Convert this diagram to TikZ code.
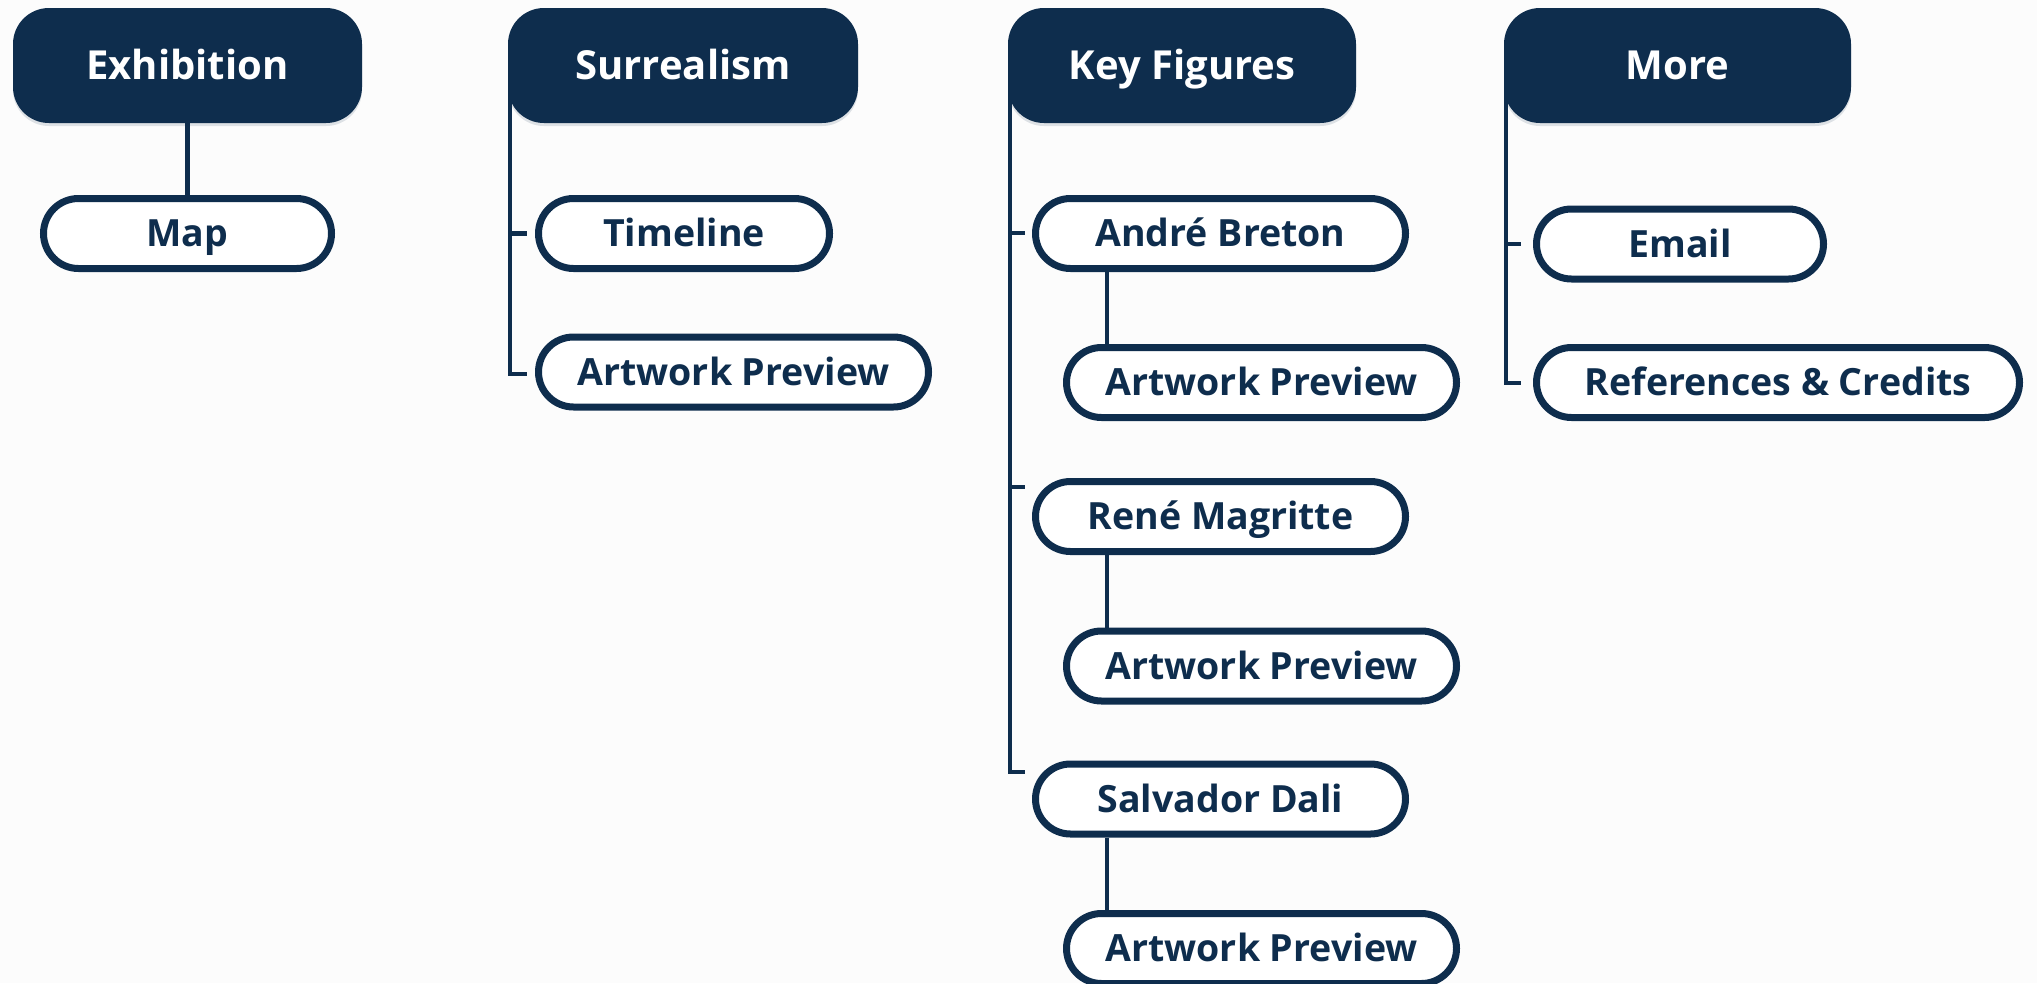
\documentclass[tikz,border=0pt]{standalone}
\usepackage{fontspec}
\setmainfont{Open Sans}
\usetikzlibrary{shadows}
\pgfdeclarelayer{background}
\pgfsetlayers{background,main}
\definecolor{navy}{RGB}{14,45,77}
\definecolor{bg}{RGB}{252,252,252}
\tikzset{
  hdr/.style={fill=navy, rounded corners=36pt, minimum height=115pt, text=white,
    font=\fontsize{40}{44}\selectfont\bfseries, inner sep=0pt,
    text height=28.6pt, text depth=0pt,
    drop shadow={shadow xshift=0pt, shadow yshift=-3pt, opacity=0.13, fill=navy}},
  pill/.style={draw=navy, line width=7pt, fill=white, rounded corners=35pt,
    minimum height=70pt, text=navy, font=\fontsize{37.5}{40}\selectfont\bfseries, inner sep=0pt,
    text height=26.8pt, text depth=0pt},
  conn/.style={draw=navy, line width=4.5pt}
}
\begin{document}
\begin{tikzpicture}[x=1pt,y=-1pt]
\begin{pgfonlayer}{background}
\fill[bg] (0,0) rectangle (2037,983);
\end{pgfonlayer}
\useasboundingbox (0,0) rectangle (2037,983);

% headers
\node[hdr, minimum width=349pt] (ex) at (187.5,65.5) {Exhibition};
\node[hdr, minimum width=350pt] (sur) at (683,65.5) {Surrealism};
\node[hdr, minimum width=348pt] (kf) at (1182,65.5) {Key Figures};
\node[hdr, minimum width=347pt] (mo) at (1677.5,65.5) {More};

% children
\node[pill, minimum width=288pt] (map) at (187.5,233.5) {Map};
\node[pill, minimum width=291pt] (tl) at (684,233.5) {Timeline};
\node[pill, minimum width=390pt] (aps) at (733.5,372) {Artwork Preview};

\node[pill, minimum width=370pt] (ab) at (1220.5,233.5) {André Breton};
\node[pill, minimum width=390pt] (ap1) at (1261.5,382.5) {Artwork Preview};
\node[pill, minimum width=370pt] (rm) at (1220.5,516.5) {René Magritte};
\node[pill, minimum width=390pt] (ap2) at (1261.5,666) {Artwork Preview};
\node[pill, minimum width=370pt] (sd) at (1220.5,799) {Salvador Dali};
\node[pill, minimum width=390pt] (ap3) at (1261.5,948.5) {Artwork Preview};

\node[pill, minimum width=287pt] (em) at (1680,244) {Email};
\node[pill, minimum width=483pt] (rc) at (1778,382.5) {References \& Credits};

% trunk coordinates
\coordinate (sT) at ([xshift=2pt]sur.west);
\coordinate (kT) at ([xshift=2pt]kf.west);
\coordinate (mT) at ([xshift=2pt]mo.west);
\coordinate (st1) at (527,233.5);
\coordinate (st2) at (527,374);
\coordinate (kt1) at (1025,233);
\coordinate (kt2) at (1025,487);
\coordinate (kt3) at (1025,772);
\coordinate (mt1) at (1521,244);
\coordinate (mt2) at (1521,383);
\coordinate (kx) at (1107,0);

% connectors (behind boxes)
\begin{pgfonlayer}{background}
\draw[conn] (ex.south) -- (map.north);
\draw[conn] (sT) |- (st2);
\draw[conn] (sT |- st1) -- (st1);
\draw[conn] (kT) |- (kt3);
\draw[conn] (kT |- kt1) -- (kt1);
\draw[conn] (kT |- kt2) -- (kt2);
\draw[conn] (mT) |- (mt2);
\draw[conn] (mT |- mt1) -- (mt1);
\draw[conn] (ab.south -| kx) -- (ap1.north -| kx);
\draw[conn] (rm.south -| kx) -- (ap2.north -| kx);
\draw[conn] (sd.south -| kx) -- (ap3.north -| kx);
\end{pgfonlayer}
\end{tikzpicture}
\end{document}
